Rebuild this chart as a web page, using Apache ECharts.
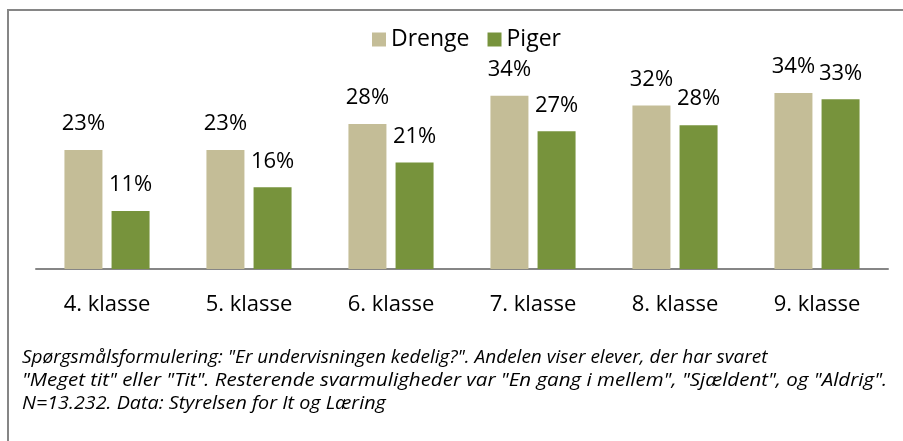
<!DOCTYPE html>
<html>
<head>
<meta charset="utf-8">
<script src="https://cdn.jsdelivr.net/npm/echarts@6/dist/echarts.min.js"></script>
<style>
  html, body { margin: 0; padding: 0; background: #fff; }
  #chart { width: 903px; height: 441px; }
</style>
</head>
<body>
<div id="chart"></div>
<script>
const categories = ["4. klasse", "5. klasse", "6. klasse", "7. klasse", "8. klasse", "9. klasse"];
const drenge = [23.0, 23.0, 28.0, 33.5, 31.6, 34.0];
const piger = [11.2, 15.8, 20.6, 26.6, 27.8, 32.8];
const noteLines = [
  'Spørgsmålsformulering: "Er undervisningen kedelig?". Andelen viser elever, der har svaret',
  '"Meget tit" eller "Tit". Resterende svarmuligheder var "En gang i mellem", "Sjældent", og "Aldrig".',
  'N=13.232. Data: Styrelsen for It og Læring'
];
// slight horizontal stretch per line to fit the original line lengths
const noteStretch = [1.0, 1.08, 1.04];

const font = "'Open Sans', 'Noto Sans', sans-serif";
const chart = echarts.init(document.getElementById("chart"));

const labelStyle = {
  show: true,
  position: "top",
  distance: 15,
  color: "#000",
  fontSize: 22,
  fontFamily: font,
  formatter: (p) => Math.round(p.value) + "%"
};

// footnote, one text per line
const noteGraphics = noteLines.map((line, i) => ({
  type: "text",
  x: 22,
  y: 346 + i * 23,
  scaleX: noteStretch[i],
  style: {
    text: line,
    fontSize: 19,
    fontStyle: "italic",
    fontFamily: font,
    lineHeight: 23,
    fill: "#000"
  }
}));

chart.setOption({
  animation: false,
  legend: {
    left: 367,
    top: 23,
    itemWidth: 14,
    itemHeight: 14,
    itemGap: 18,
    icon: "rect",
    textStyle: { fontSize: 23, fontFamily: font, color: "#000" },
    data: ["Drenge", "Piger"]
  },
  grid: { left: 36, right: 15, top: 62, bottom: 172 },
  xAxis: {
    type: "category",
    data: categories,
    axisLine: { lineStyle: { color: "#868686", width: 2 } },
    axisTick: { show: false },
    axisLabel: { fontSize: 22, fontFamily: font, color: "#000", margin: 25 }
  },
  yAxis: {
    type: "value",
    min: 0,
    max: 40,
    show: false
  },
  series: [
    {
      name: "Drenge",
      type: "bar",
      data: drenge,
      barWidth: 38,
      barGap: "24%",
      itemStyle: { color: "#c4bd97" },
      label: labelStyle
    },
    {
      name: "Piger",
      type: "bar",
      data: piger,
      barWidth: 38,
      itemStyle: { color: "#77933c" },
      label: labelStyle
    }
  ],
  graphic: [
    {
      type: "rect",
      shape: { x: 8, y: 10, width: 1000, height: 1000 },
      style: { fill: "none", stroke: "#868686", lineWidth: 2 },
      silent: true
    }
  ].concat(noteGraphics)
});
</script>
</body>
</html>
